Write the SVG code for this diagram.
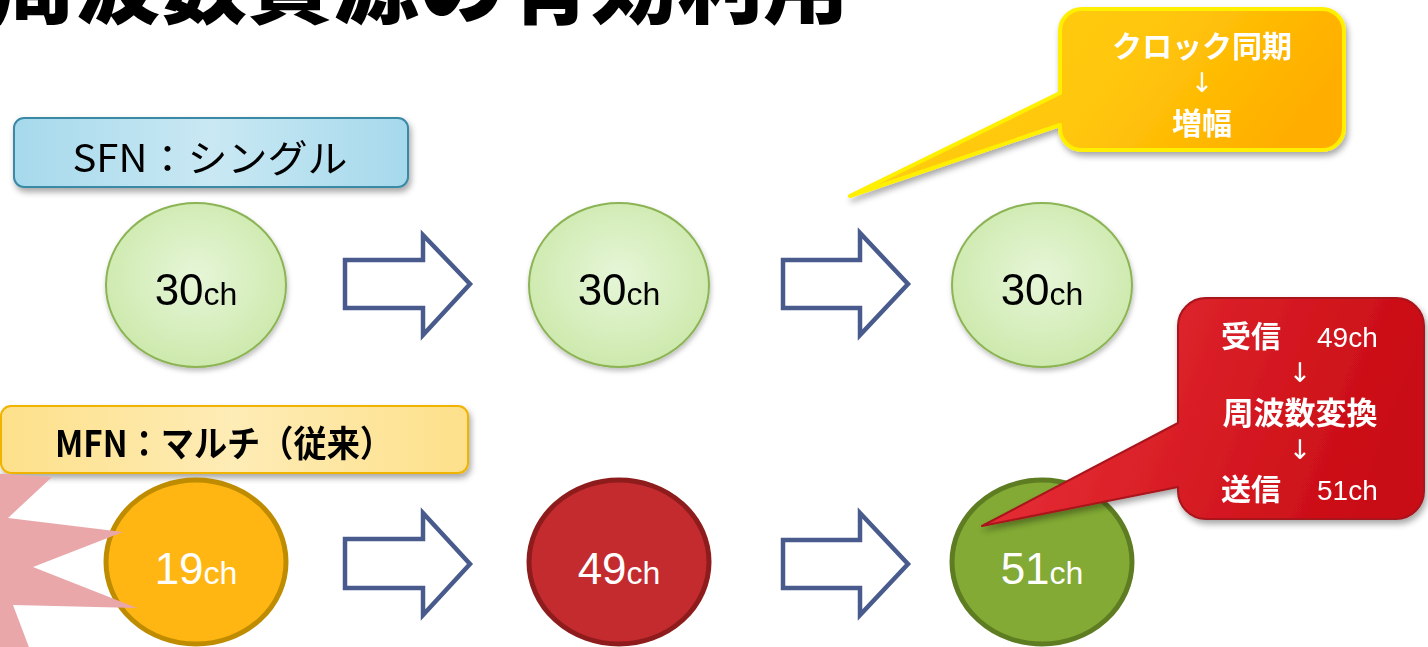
<svg xmlns="http://www.w3.org/2000/svg" width="1428" height="647" viewBox="0 0 1428 647">
<defs>
<style>
.jp{font-family:"Noto Sans CJK JP","Noto Sans",sans-serif}
.num{font-family:"Liberation Sans",Arial,sans-serif}
.dn{font-family:"DejaVu Sans",sans-serif;font-size:27px;fill:#ffffff;text-anchor:middle}
.arrow{fill:#ffffff;stroke:#485b8c;stroke-width:4.5;stroke-linejoin:miter}
.top{fill:url(#gGreen);stroke:#8cb455;stroke-width:2}
.wt{fill:#ffffff}
</style>
<radialGradient id="gGreen" cx="0.5" cy="0.45" r="0.6">
<stop offset="0" stop-color="#e6f6d8"/>
<stop offset="1" stop-color="#cbe8a9"/>
</radialGradient>
<linearGradient id="gBlue" x1="0" y1="0" x2="1" y2="0">
<stop offset="0" stop-color="#a6d9ec"/>
<stop offset="0.5" stop-color="#c9e8f3"/>
<stop offset="1" stop-color="#a6d9ec"/>
</linearGradient>
<linearGradient id="gYelBox" x1="0" y1="0" x2="1" y2="0">
<stop offset="0" stop-color="#fde08a"/>
<stop offset="0.5" stop-color="#feecb6"/>
<stop offset="1" stop-color="#fde08a"/>
</linearGradient>
<linearGradient id="gGold" x1="0" y1="0" x2="1" y2="0.3">
<stop offset="0" stop-color="#ffd21c"/>
<stop offset="0.6" stop-color="#ffc60a"/>
<stop offset="1" stop-color="#ffae00"/>
</linearGradient>
<linearGradient id="gRed" x1="0" y1="0" x2="1" y2="0.2">
<stop offset="0" stop-color="#ec353c"/>
<stop offset="1" stop-color="#c90c15"/>
</linearGradient>
<filter id="sh" x="-10%" y="-10%" width="130%" height="140%">
<feDropShadow dx="2" dy="4" stdDeviation="3" flood-color="#000" flood-opacity="0.35"/>
</filter>
<filter id="shs" x="-10%" y="-10%" width="130%" height="130%">
<feDropShadow dx="1" dy="3" stdDeviation="2.5" flood-color="#000" flood-opacity="0.25"/>
</filter>
</defs>

<rect x="0" y="0" width="1428" height="647" fill="#ffffff"/>

<text x="-11" y="17" class="jp" font-size="86" font-weight="900" fill="#000">周波数資源の有効利用</text>

<g id="label-sfn" filter="url(#sh)">
<rect x="14" y="118" width="394" height="69" rx="10" fill="url(#gBlue)" stroke="#3a8aa5" stroke-width="2"/>
<text x="210" y="172" class="jp" font-size="38" text-anchor="middle" textLength="275" lengthAdjust="spacingAndGlyphs" fill="#000">SFN：シングル</text>
</g>

<g id="label-mfn" filter="url(#sh)">
<rect x="1" y="406" width="467" height="67" rx="10" fill="url(#gYelBox)" stroke="#f0b400" stroke-width="2"/>
<text x="224" y="457" class="jp" font-size="36" font-weight="bold" text-anchor="middle" textLength="338" lengthAdjust="spacingAndGlyphs" fill="#000">MFN：マルチ（従来）</text>
</g>

<g id="connectors">
<path class="arrow" d="M345,260 H423 V235 L470,284 L423,335 V308 H345 Z"/>
<path class="arrow" d="M783,260 H860 V233 L908,284 L860,335 V308 H783 Z"/>
<path class="arrow" d="M345,539 H423 V513 L470,564 L423,615 V588 H345 Z"/>
<path class="arrow" d="M783,540 H860 V513 L908,564 L860,615 V588 H783 Z"/>
</g>

<g id="node-sfn1" filter="url(#shs)">
<ellipse cx="196" cy="285" rx="90" ry="82" class="top"/>
<text x="196" y="305" class="num" text-anchor="middle" fill="#000"><tspan font-size="44">30</tspan><tspan font-size="32">ch</tspan></text>
</g>
<g id="node-sfn2" filter="url(#shs)">
<ellipse cx="619" cy="285" rx="90" ry="82" class="top"/>
<text x="619" y="305" class="num" text-anchor="middle" fill="#000"><tspan font-size="44">30</tspan><tspan font-size="32">ch</tspan></text>
</g>
<g id="node-sfn3" filter="url(#shs)">
<ellipse cx="1042" cy="285" rx="90" ry="82" class="top"/>
<text x="1042" y="305" class="num" text-anchor="middle" fill="#000"><tspan font-size="44">30</tspan><tspan font-size="32">ch</tspan></text>
</g>

<g id="node-mfn1">
<ellipse cx="196" cy="562" rx="90" ry="82" fill="#ffb612" stroke="#bf8c00" stroke-width="5"/>
<text x="196" y="584" class="num wt" text-anchor="middle"><tspan font-size="44">19</tspan><tspan font-size="32">ch</tspan></text>
</g>
<g id="node-mfn2">
<ellipse cx="619" cy="562" rx="90" ry="82" fill="#c32b2f" stroke="#8e1c1c" stroke-width="5"/>
<text x="619" y="584" class="num wt" text-anchor="middle"><tspan font-size="44">49</tspan><tspan font-size="32">ch</tspan></text>
</g>
<g id="node-mfn3">
<ellipse cx="1042" cy="562" rx="90" ry="82" fill="#82aa34" stroke="#5e7d22" stroke-width="5"/>
<text x="1042" y="584" class="num wt" text-anchor="middle"><tspan font-size="44">51</tspan><tspan font-size="32">ch</tspan></text>
</g>

<g id="interference">
<polygon points="-60,470 52,477 8,518 123,532 33,567 137,608 13,605 30,650 -60,650" fill="#eaa7aa"/>
</g>

<g id="callout-clock" filter="url(#sh)">
<path d="M1082,9 H1322 A22,22 0 0 1 1344,31 V128 A22,22 0 0 1 1322,150 H1082 A22,22 0 0 1 1060,128 V125 L850,196 L1060,93 V31 A22,22 0 0 1 1082,9 Z" fill="url(#gGold)" stroke="#ffef00" stroke-width="4" stroke-linejoin="round"/>
<text x="1202" y="57" class="jp wt" font-size="30" font-weight="bold" text-anchor="middle">クロック同期</text>
<text x="1202" y="92" class="dn">↓</text>
<text x="1202" y="134" class="jp wt" font-size="30" font-weight="bold" text-anchor="middle">増幅</text>
</g>

<g id="callout-convert" filter="url(#sh)">
<path d="M1206,298 H1396 A28,28 0 0 1 1424,326 V491 A28,28 0 0 1 1396,519 H1206 A28,28 0 0 1 1178,491 V487 L982,526 L1178,423 V326 A28,28 0 0 1 1206,298 Z" fill="url(#gRed)" stroke="#a8141c" stroke-width="2" stroke-linejoin="round"/>
<text x="1221" y="347" class="jp wt" font-size="30" font-weight="bold">受信</text>
<text x="1317" y="347" class="num wt" font-size="28">49ch</text>
<text x="1300" y="382" class="dn">↓</text>
<text x="1300" y="424" class="jp wt" font-size="31" font-weight="bold" text-anchor="middle">周波数変換</text>
<text x="1300" y="458.5" class="dn">↓</text>
<text x="1221" y="500" class="jp wt" font-size="30" font-weight="bold">送信</text>
<text x="1317" y="500" class="num wt" font-size="28">51ch</text>
</g>
</svg>
